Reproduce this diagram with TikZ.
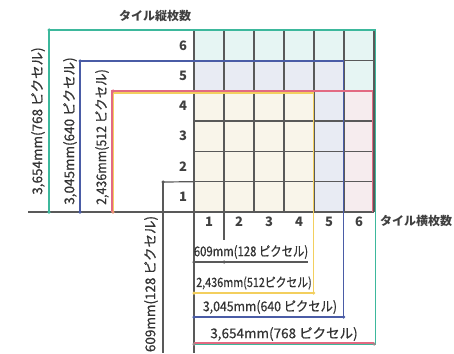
\documentclass[tikz,border=0pt]{standalone}
\usepackage{fontspec}
\setmainfont{Noto Sans CJK JP}
\newfontfamily\lblfont[FakeBold=0.6]{Noto Sans CJK JP}
\begin{document}
\begin{tikzpicture}[x=1pt,y=-1pt,
  gridline/.style={draw=black!65,line width=1.3pt},
  aux/.style={draw=black!65,line width=1.2pt},
  tealL/.style={draw=tealc,line width=1.4pt},
  blueL/.style={draw=bluec,line width=1.4pt},
  pinkL/.style={draw=pinkc,line width=1.4pt},
  yelL/.style={draw=yelc,line width=1.4pt},
  dot/.style={circle,inner sep=0pt,minimum size=3.5pt},
  num/.style={font=\fontsize{13}{13}\selectfont\bfseries,text=black!75,inner sep=0pt},
  ttl/.style={font=\fontsize{12}{12}\selectfont\bfseries,text=black!75,inner sep=0pt},
  lbl/.style={font=\lblfont\fontsize{13.5}{13.5}\selectfont,text=black!80,inner sep=0pt}
]
\definecolor{tealc}{HTML}{3DB89C}
\definecolor{bluec}{HTML}{4A5CA6}
\definecolor{pinkc}{HTML}{E26A82}
\definecolor{yelc}{HTML}{F3CF5E}
\definecolor{tealf}{HTML}{E6F5F3}
\definecolor{bluef}{HTML}{E8EBF3}
\definecolor{creamf}{HTML}{F9F5EA}
\definecolor{pinkf}{HTML}{F6ECEE}
\useasboundingbox (0,0) rectangle (454,353);
% fills
\fill[tealf] (194,30.2) rectangle (374,60.5);
\fill[tealf] (344,60.5) rectangle (374,90.8);
\fill[bluef] (194,60.5) rectangle (344,90.8);
\fill[creamf] (194,90.8) rectangle (314,212);
\fill[bluef] (314,90.8) rectangle (344,212);
\fill[pinkf] (344,90.8) rectangle (374,212);
% grid
\foreach \i in {0,...,6} {
  \draw[gridline] ({194+30*\i},30.2) -- ({194+30*\i},212);
  \draw[gridline] (194,{212-30.3*\i}) -- (374,{212-30.3*\i});
}
% auxiliary grey lines
\coordinate (gl0) at (28,212);
\coordinate (gl1) at (163,182);
\coordinate (gl2) at (163,353);
\coordinate (gb0) at (194,212);
\coordinate (gb1) at (194,353);
\draw[aux] (gl0) -- (gb0);
\draw[aux] (gl1) -- (gl2);
\draw[aux] (gl1) -- (194,181.7);
\draw[aux] (gb0) -- (gb1);
\draw[aux] (224,212) -- (224,240);
\draw[aux] (194,262) -- (308,262);
% coloured outlines
\draw[tealL] (49,212) -- (49,30) -- (375.5,30) -- (375.5,344.5) -- (194,344.5);
\draw[blueL] (80,212) -- (80,61) -- (343.5,61) -- (343.5,317) -- (194,317);
\draw[pinkL] (112,212) -- (112,91) -- (372.5,91) -- (372.5,212);
\draw[pinkL] (194,343) -- (374,343);
\draw[yelL] (113.5,212) -- (113.5,93) -- (313.5,93) -- (313.5,293) -- (194,293);
% dots
\node[dot,fill=tealc] at (49,30) {};
\node[dot,fill=tealc] at (49,212) {};
\node[dot,fill=bluec] at (80,61) {};
\node[dot,fill=bluec] at (80,212) {};
\node[dot,fill=pinkc] at (113,91) {};
\node[dot,fill=pinkc!60!yelc] at (113,212) {};
\node[dot,fill=black!65] at (163,182) {};
\node[dot,fill=black!65] at (163,212) {};
\node[dot,fill=black!65] at (194,262) {};
\node[dot,fill=black!65] at (224,262) {};
\node[dot,fill=yelc] at (194,293) {};
\node[dot,fill=yelc] at (313.5,293) {};
\node[dot,fill=bluec] at (194,317) {};
\node[dot,fill=bluec] at (343.5,317) {};
\node[dot,fill=pinkc!60!tealc] at (194,344) {};
\node[dot,fill=pinkc!60!tealc] at (374,344) {};
% row / column numbers
\foreach \n in {1,...,6} {
  \node[num] (r\n) at (183,{212-30.3*\n+15.15}) {\n};
  \node[num] (c\n) at ({194+30*\n-15},221.5) {\n};
}
% titles
\node[ttl] (tv) at (155,16) {タイル縦枚数};
\node[ttl] (th) at (416,221) {タイル横枚数};
% labels
\node[lbl,rotate=90] (lv1) at (38,121) {3,654mm(768 ピクセル)};
\node[lbl,rotate=90] (lv2) at (70,131) {3,045mm(640 ピクセル)};
\node[lbl,rotate=90] (lv3) at (102,137) {\scalebox{0.92}[1]{2,436mm(512 ピクセル)}};
\node[lbl,rotate=90] (lv4) at (151,284) {609mm(128 ピクセル)};
\node[lbl] (lh1) at (251,252) {\scalebox{0.84}[1]{609mm(128 ピクセル)}};
\node[lbl] (lh2) at (254,283) {\scalebox{0.8}[0.95]{2,436mm(512ピクセル)}};
\node[lbl] (lh3) at (270,307) {\scalebox{0.91}[1]{3,045mm(640 ピクセル)}};
\node[lbl] (lh4) at (284,334) {3,654mm(768 ピクセル)};
\end{tikzpicture}
\end{document}
